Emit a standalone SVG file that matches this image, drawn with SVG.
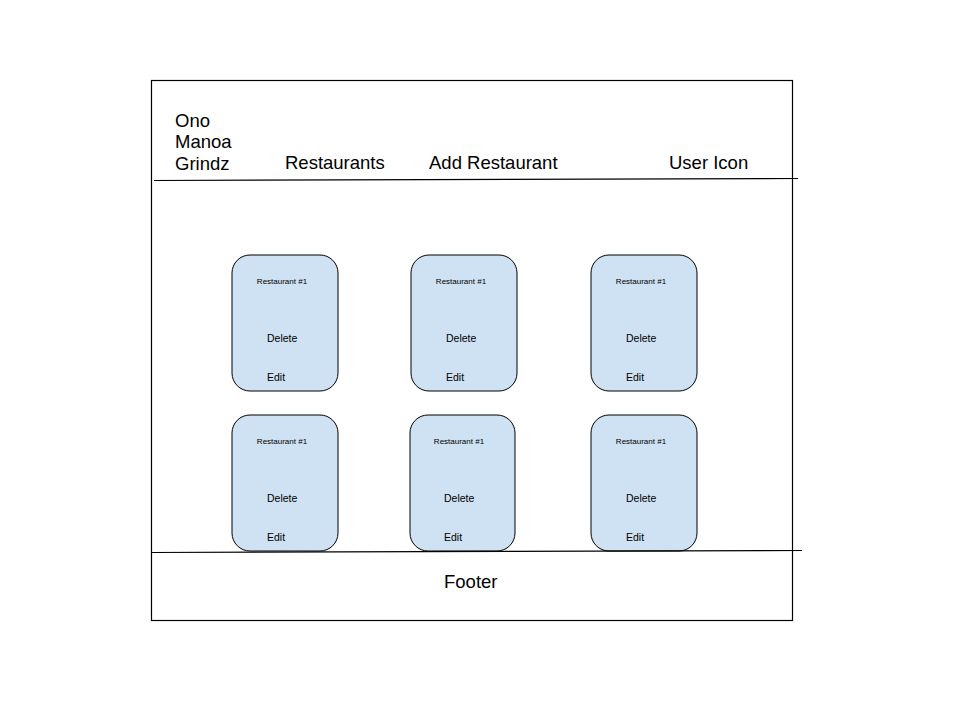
<svg xmlns="http://www.w3.org/2000/svg" width="960" height="720" viewBox="0 0 960 720">
<style>
.frame{fill:#fff;stroke:#000;stroke-width:1.2}
.card{fill:#cfe2f3;stroke:#000;stroke-width:1}
.line{stroke:#000;stroke-width:1.2;fill:none}
.big{font-family:"Liberation Sans",Arial,sans-serif;font-size:18.5px;fill:#000}
.t{font-family:"Liberation Sans",Arial,sans-serif;font-size:8px;fill:#000}
.b{font-family:"Liberation Sans",Arial,sans-serif;font-size:10.5px;fill:#000}
</style>
<rect width="960" height="720" fill="#fff"/>
<rect class="frame" x="151.5" y="80.5" width="641" height="540"/>
<g id="header">
<text class="big" x="175" y="127">Ono</text>
<text class="big" x="175" y="148">Manoa</text>
<text class="big" x="175" y="170">Grindz</text>
<text class="big" x="285" y="169">Restaurants</text>
<text class="big" x="429" y="169">Add Restaurant</text>
<text class="big" x="669" y="169">User Icon</text>
</g>
<g id="card1"><rect class="card" x="232" y="255" width="106" height="136" rx="18"/><text class="t" x="282" y="284" text-anchor="middle">Restaurant #1</text><text class="b" x="267" y="342">Delete</text><text class="b" x="267" y="381">Edit</text></g>
<g id="card2"><rect class="card" x="411" y="255" width="106" height="136" rx="18"/><text class="t" x="461" y="284" text-anchor="middle">Restaurant #1</text><text class="b" x="446" y="342">Delete</text><text class="b" x="446" y="381">Edit</text></g>
<g id="card3"><rect class="card" x="591" y="255" width="106" height="136" rx="18"/><text class="t" x="641" y="284" text-anchor="middle">Restaurant #1</text><text class="b" x="626" y="342">Delete</text><text class="b" x="626" y="381">Edit</text></g>
<g id="card4"><rect class="card" x="232" y="415" width="106" height="136" rx="18"/><text class="t" x="282" y="444" text-anchor="middle">Restaurant #1</text><text class="b" x="267" y="502">Delete</text><text class="b" x="267" y="541">Edit</text></g>
<g id="card5"><rect class="card" x="410" y="415" width="105" height="136" rx="18"/><text class="t" x="459" y="444" text-anchor="middle">Restaurant #1</text><text class="b" x="444" y="502">Delete</text><text class="b" x="444" y="541">Edit</text></g>
<g id="card6"><rect class="card" x="591" y="415" width="106" height="136" rx="18"/><text class="t" x="641" y="444" text-anchor="middle">Restaurant #1</text><text class="b" x="626" y="502">Delete</text><text class="b" x="626" y="541">Edit</text></g>
<g id="connectors">
<line class="line" x1="154" y1="180.5" x2="798" y2="178.5"/>
<line class="line" x1="151" y1="552.5" x2="802" y2="550.5"/>
</g>
<g id="footer"><text class="big" x="444" y="588">Footer</text></g>
</svg>
